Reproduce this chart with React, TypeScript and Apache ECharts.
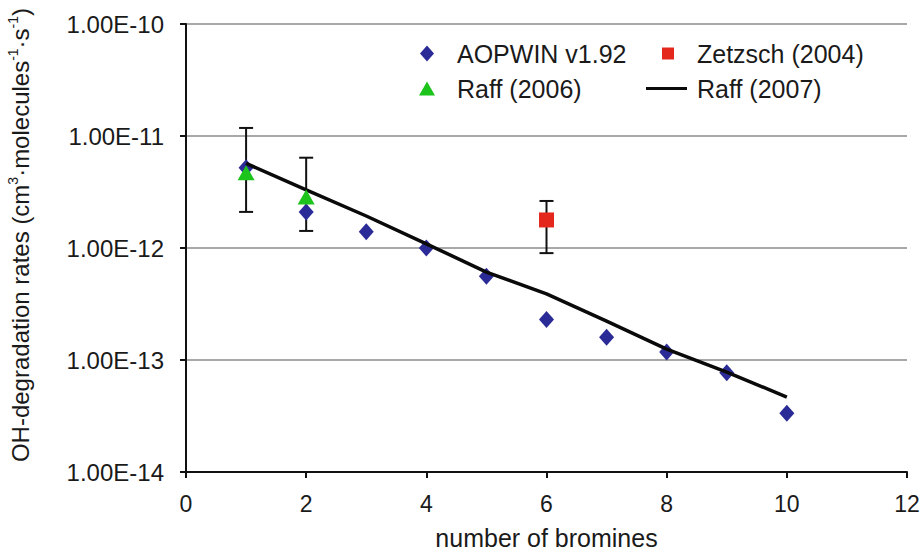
import React, { useEffect, useRef } from "react";
import * as echarts from "echarts";

const FONT = '"Liberation Sans", Arial, Helvetica, sans-serif';

// number of bromines
const aopwinX = [1, 2, 3, 4, 5, 6, 7, 8, 9, 10];
const aopwinY = [5.2e-12, 2.1e-12, 1.4e-12, 1.0e-12, 5.6e-13, 2.3e-13, 1.6e-13, 1.18e-13, 7.7e-14, 3.35e-14];

const zetzschX = [6];
const zetzschY = [1.78e-12];
const zetzschLow = [9.0e-13];
const zetzschHigh = [2.63e-12];

const raff2006X = [1, 2];
const raff2006Y = [4.7e-12, 2.85e-12];
const raff2006Low = [2.1e-12, 1.42e-12];
const raff2006High = [1.18e-11, 6.4e-12];

const raff2007X = [1, 2, 3, 4, 5, 6, 7, 8, 9, 10];
const raff2007Y = [5.7e-12, 3.3e-12, 1.93e-12, 1.09e-12, 6.1e-13, 3.9e-13, 2.22e-13, 1.25e-13, 7.8e-14, 4.67e-14];

const xTicks = [0, 2, 4, 6, 8, 10, 12];

export default function App() {
  const ref = useRef<HTMLDivElement>(null);

  useEffect(() => {
    if (!ref.current) return;
    const chart = echarts.init(ref.current, null, { renderer: "svg" });

    const errData: number[][] = [];
    zetzschX.forEach((x, i) => errData.push([x, zetzschLow[i], zetzschHigh[i]]));
    raff2006X.forEach((x, i) => errData.push([x, raff2006Low[i], raff2006High[i]]));

    const textColor = "#1a1a1a";
    const legendText = (pad: number) => ({
      fontSize: 25,
      fontFamily: FONT,
      color: textColor,
      padding: [0, 0, 0, pad],
    });

    chart.setOption({
      animation: false,
      backgroundColor: "#ffffff",
      textStyle: { fontFamily: FONT, color: textColor },
      grid: {
        left: 186,
        right: 15,
        top: 24,
        bottom: 83,
        containLabel: false,
        outerBoundsMode: "none",
      },
      legend: [
        {
          left: 420,
          top: 41,
          padding: 0,
          itemWidth: 14,
          itemHeight: 16,
          textStyle: legendText(18),
          data: ["AOPWIN v1.92"],
        },
        {
          left: 419,
          top: 76,
          padding: 0,
          itemWidth: 16,
          itemHeight: 14,
          textStyle: legendText(17),
          data: ["Raff (2006)"],
        },
        {
          left: 662,
          top: 41,
          padding: 0,
          itemWidth: 12,
          itemHeight: 12,
          textStyle: legendText(18),
          data: ["Zetzsch (2004)"],
        },
        {
          left: 646,
          top: 76,
          padding: 0,
          itemWidth: 41,
          itemHeight: 3,
          textStyle: legendText(5),
          data: [{ name: "Raff (2007)", icon: "rect" }],
        },
      ],
      xAxis: {
        type: "value",
        min: xTicks[0],
        max: xTicks[xTicks.length - 1],
        interval: 2,
        name: "number of bromines",
        nameLocation: "middle",
        nameGap: 53,
        nameTextStyle: { fontSize: 25, fontFamily: FONT, color: textColor },
        axisLine: { show: true, lineStyle: { color: "#111", width: 2 } },
        axisTick: { show: true, inside: false, length: 6, lineStyle: { color: "#111", width: 2 } },
        axisLabel: { fontSize: 23, margin: 20, color: textColor, fontFamily: FONT },
        splitLine: { show: false },
      },
      yAxis: {
        type: "log",
        logBase: 10,
        min: 1e-14,
        max: 1e-10,
        name:
          "{n|OH-degradation rates (cm}{s|3}{n|·molecules}{s|-1}{n|·s}{s|-1}{n|)}",
        nameLocation: "middle",
        nameGap: 152,
        nameTextStyle: {
          padding: [0, 0, 0, 26],
          rich: {
            n: { fontSize: 24, fontFamily: FONT, color: textColor, lineHeight: 28 },
            s: { fontSize: 14, fontFamily: FONT, color: textColor, verticalAlign: "top" },
          },
        },
        axisLine: { show: true, lineStyle: { color: "#111", width: 2 } },
        axisTick: { show: true, inside: false, length: 6, lineStyle: { color: "#111", width: 2 } },
        axisLabel: {
          fontSize: 24,
          margin: 22,
          color: textColor,
          fontFamily: FONT,
          formatter: (v: number) => Number(v).toExponential(2).toUpperCase(),
        },
        splitLine: { show: true, lineStyle: { color: "#a8a8a8", width: 2 } },
      },
      series: [
        {
          name: "errorbars",
          type: "custom",
          z: 2,
          encode: { x: 0, y: [1, 2] },
          data: errData,
          renderItem: (params: any, api: any) => {
            const x = api.value(0);
            const lo = api.coord([x, api.value(1)]);
            const hi = api.coord([x, api.value(2)]);
            const hw = 7;
            const st = { stroke: "#111", lineWidth: 2 };
            return {
              type: "group",
              children: [
                { type: "line", shape: { x1: lo[0], y1: lo[1], x2: hi[0], y2: hi[1] }, style: st },
                { type: "line", shape: { x1: lo[0] - hw, y1: lo[1], x2: lo[0] + hw, y2: lo[1] }, style: st },
                { type: "line", shape: { x1: hi[0] - hw, y1: hi[1], x2: hi[0] + hw, y2: hi[1] }, style: st },
              ],
            };
          },
        },
        {
          name: "AOPWIN v1.92",
          type: "scatter",
          symbol: "diamond",
          symbolSize: [15, 17],
          z: 3,
          itemStyle: { color: "#2b2b98", opacity: 1 },
          data: aopwinX.map((x, i) => [x, aopwinY[i]]),
        },
        {
          name: "Zetzsch (2004)",
          type: "scatter",
          symbol: "rect",
          symbolSize: 15,
          z: 4,
          itemStyle: { color: "#e5281e", opacity: 1 },
          data: zetzschX.map((x, i) => [x, zetzschY[i]]),
        },
        {
          name: "Raff (2007)",
          type: "line",
          symbol: "none",
          showSymbol: false,
          z: 4,
          lineStyle: { color: "#0a0a0a", width: 3.5 },
          itemStyle: { color: "#0a0a0a" },
          data: raff2007X.map((x, i) => [x, raff2007Y[i]]),
        },
        {
          name: "Raff (2006)",
          type: "scatter",
          symbol: "triangle",
          symbolSize: [17, 15],
          z: 5,
          itemStyle: { color: "#1cc41c", opacity: 1 },
          data: raff2006X.map((x, i) => [x, raff2006Y[i]]),
        },
      ],
    });

    return () => chart.dispose();
  }, []);

  return (
    <div
      ref={ref}
      style={{ position: "fixed", left: 0, top: 0, width: 922, height: 555, background: "#fff" }}
    />
  );
}
